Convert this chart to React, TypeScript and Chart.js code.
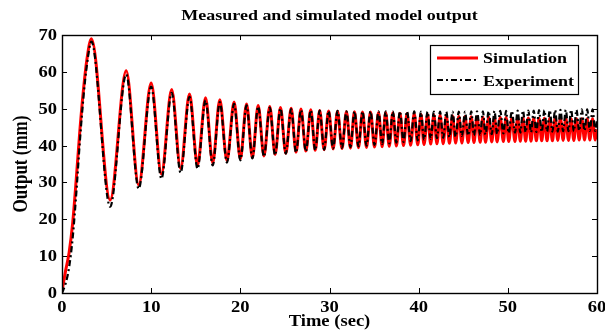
import React, { useEffect, useRef } from "react";
import { Chart, registerables } from "chart.js";
Chart.register(...registerables);

const TITLE = "Measured and simulated model output";
const X_TITLE = "Time (sec)";
const Y_TITLE = "Output (mm)";
const SERIES_NAMES = ["Simulation", "Experiment"];
const xTicks = [0, 10, 20, 30, 40, 50, 60];
const yTicks = [0, 10, 20, 30, 40, 50, 60, 70];

// time (sec) of read points: initial rise, then alternating troughs / peaks
const time = [
  0, 0.4, 0.8, 1.2, 1.6, 2.0, 2.4, 2.8, 3.3,
  5.4, 7.2, 8.6, 10.0, 11.15, 12.3, 13.3, 14.3, 15.2, 16.1,
  16.9, 17.7, 18.5, 19.3, 20.0, 20.7, 21.35, 22.0, 22.65, 23.3,
  23.9, 24.5, 25.1, 25.7, 26.25, 26.8, 27.35, 27.9, 28.4, 28.9,
  29.4, 29.9, 30.4, 30.9, 31.4, 31.9, 32.35, 32.8, 33.25, 33.7,
  34.15, 34.6, 35.05, 35.5, 35.9, 36.3, 36.7, 37.1, 37.5, 37.9,
  38.3, 38.7, 39.1, 39.5, 39.9, 40.25, 40.6, 41.0, 41.35, 41.7,
  42.05, 42.4, 42.75, 43.1, 43.45, 43.8, 44.15, 44.5, 44.85, 45.2,
  45.55, 45.9, 46.2, 46.55, 46.9, 47.2, 47.5, 47.85, 48.2, 48.5,
  48.8, 49.15, 49.5, 49.8, 50.1, 50.45, 50.8, 51.1, 51.4, 51.7,
  52.0, 52.3, 52.6, 52.9, 53.2, 53.5, 53.8, 54.1, 54.4, 54.7,
  55.0, 55.3, 55.6, 55.9, 56.2, 56.5, 56.8, 57.1, 57.4, 57.7,
  58.0, 58.3, 58.6, 58.9, 59.2, 59.5, 59.8, 60.0,
];

const simulation = [
  0.5, 6, 11, 19, 31, 44, 55, 63.5, 69,
  25.2, 60.3, 29.3, 57.0, 32.3, 55.2, 33.8, 54.0, 34.7, 53.0,
  35.3, 52.4, 35.9, 51.8, 36.4, 51.3, 36.8, 50.9, 37.2, 50.6,
  37.6, 50.3, 37.9, 50.1, 38.2, 49.9, 38.5, 49.7, 38.7, 49.5,
  38.9, 49.4, 39.1, 49.3, 39.2, 49.2, 39.3, 49.2, 39.4, 49.1,
  39.5, 49.1, 39.6, 49.0, 39.7, 49.0, 39.8, 48.9, 39.9, 48.8,
  40.0, 48.7, 40.1, 48.6, 40.2, 48.5, 40.3, 48.4, 40.4, 48.3,
  40.5, 48.2, 40.5, 48.1, 40.6, 48.0, 40.7, 47.9, 40.7, 47.9,
  40.8, 47.8, 40.8, 47.8, 40.9, 47.7, 40.9, 47.7, 41.0, 47.6,
  41.0, 47.6, 41.1, 47.6, 41.1, 47.5, 41.1, 47.5, 41.2, 47.5,
  41.2, 47.5, 41.2, 47.4, 41.3, 47.4, 41.3, 47.4, 41.3, 47.4,
  41.3, 47.4, 41.4, 47.4, 41.4, 47.4, 41.4, 47.3, 41.4, 47.3,
  41.5, 47.3, 41.5, 47.3, 41.5, 47.3, 41.5, 44.4,
];

const experiment = [
  0, 2.5, 7, 15, 27, 41, 53, 62, 68.2,
  23.4, 59.3, 28.3, 56.0, 31.0, 54.3, 32.6, 53.2, 33.7, 52.3,
  34.6, 51.8, 35.4, 51.3, 36.0, 50.9, 36.5, 50.6, 37.0, 50.3,
  37.4, 50.1, 37.8, 49.9, 38.1, 49.7, 38.4, 49.6, 38.7, 49.5,
  38.9, 49.4, 39.2, 49.4, 39.4, 49.3, 39.6, 49.3, 39.8, 49.3,
  40.0, 49.3, 40.2, 49.3, 40.4, 49.3, 40.6, 49.3, 40.8, 49.3,
  41.0, 49.3, 41.2, 49.3, 41.4, 49.2, 41.6, 49.2, 41.8, 49.2,
  42.0, 49.2, 42.1, 49.2, 42.3, 49.2, 42.4, 49.2, 42.6, 49.2,
  42.7, 49.3, 42.8, 49.3, 42.9, 49.3, 43.0, 49.3, 43.1, 49.4,
  43.2, 49.4, 43.3, 49.4, 43.4, 49.4, 43.5, 49.5, 43.5, 49.5,
  43.6, 49.5, 43.6, 49.5, 43.7, 49.6, 43.7, 49.6, 43.8, 49.6,
  43.8, 49.6, 43.8, 49.7, 43.9, 49.7, 43.9, 49.7, 43.9, 49.7,
  44.0, 49.8, 44.0, 49.8, 44.0, 49.8, 44.0, 47.0,
];

const FONT_FAMILY = '"Liberation Serif", "Times New Roman", Times, serif';
const SX = 1.16;
const RED = "#ff0000";
const BLACK = "#000000";
const DASH = [6, 3, 2, 3];

function drawText(
  ctx: CanvasRenderingContext2D,
  text: string,
  x: number,
  y: number,
  size: number,
  align: CanvasTextAlign,
  baseline: CanvasTextBaseline
) {
  ctx.save();
  ctx.translate(x, y);
  ctx.scale(SX, 1);
  ctx.font = `bold ${size}px ${FONT_FAMILY}`;
  ctx.fillStyle = "#000";
  ctx.textAlign = align;
  ctx.textBaseline = baseline;
  ctx.fillText(text, 0, 0);
  ctx.restore();
}

const decorPlugin = {
  id: "decor",
  afterDraw(chart: any) {
    const ctx: CanvasRenderingContext2D = chart.ctx;
    const { left, right, top, bottom } = chart.chartArea;
    const xs = chart.scales.x;
    const ys = chart.scales.y;
    ctx.save();
    ctx.strokeStyle = "#000";
    ctx.lineWidth = 1.4;
    ctx.strokeRect(Math.round(left) + 0.5, Math.round(top) + 0.5, Math.round(right - left), Math.round(bottom - top));
    const tl = 5;
    ctx.lineWidth = 1;
    ctx.beginPath();
    xTicks.forEach((v) => {
      const px = Math.round(xs.getPixelForValue(v)) + 0.5;
      ctx.moveTo(px, bottom);
      ctx.lineTo(px, bottom - tl);
      ctx.moveTo(px, top);
      ctx.lineTo(px, top + tl);
    });
    yTicks.forEach((v) => {
      const py = Math.round(ys.getPixelForValue(v)) + 0.5;
      ctx.moveTo(left, py);
      ctx.lineTo(left + tl, py);
      ctx.moveTo(right, py);
      ctx.lineTo(right - tl, py);
    });
    ctx.stroke();
    xTicks.forEach((v) => {
      drawText(ctx, String(v), xs.getPixelForValue(v), 312, 16, "center", "alphabetic");
    });
    yTicks.forEach((v) => {
      drawText(ctx, String(v), left - 5, ys.getPixelForValue(v) + 5, 16, "right", "alphabetic");
    });
    drawText(ctx, TITLE, (left + right) / 2, 20, 15.5, "center", "alphabetic");
    drawText(ctx, X_TITLE, (left + right) / 2, 326, 16, "center", "alphabetic");
    ctx.save();
    ctx.translate(27, (top + bottom) / 2);
    ctx.rotate(-Math.PI / 2);
    ctx.scale(1, 1.2);
    ctx.font = `bold 17px ${FONT_FAMILY}`;
    ctx.fillStyle = "#000";
    ctx.textAlign = "center";
    ctx.textBaseline = "alphabetic";
    ctx.fillText(Y_TITLE, 0, 0);
    ctx.restore();
    const lx = 430, ly = 45, lw = 148, lh = 49;
    ctx.fillStyle = "#fff";
    ctx.fillRect(lx, ly, lw, lh);
    ctx.strokeStyle = "#000";
    ctx.lineWidth = 1.2;
    ctx.strokeRect(lx + 0.5, ly + 0.5, lw, lh);
    ctx.lineWidth = 2.8;
    ctx.strokeStyle = RED;
    ctx.beginPath();
    ctx.moveTo(437, 58);
    ctx.lineTo(478, 58);
    ctx.stroke();
    ctx.lineWidth = 2;
    ctx.strokeStyle = BLACK;
    ctx.setLineDash(DASH);
    ctx.beginPath();
    ctx.moveTo(437, 80);
    ctx.lineTo(478, 80);
    ctx.stroke();
    ctx.setLineDash([]);
    drawText(ctx, SERIES_NAMES[0], 483, 63, 15.5, "left", "alphabetic");
    drawText(ctx, SERIES_NAMES[1], 483, 86, 15.5, "left", "alphabetic");
    ctx.restore();
  },
};

export default function App() {
  const ref = useRef<HTMLCanvasElement | null>(null);
  useEffect(() => {
    if (!ref.current) return;
    let chart: Chart | null = null;
    let cancelled = false;
    const build = () => {
      if (cancelled || !ref.current) return;
      const simData = time.map((t, i) => ({ x: t, y: simulation[i] }));
      const expData = time.map((t, i) => ({ x: t, y: experiment[i] }));
      chart = new Chart(ref.current, {
        type: "line",
        data: {
          datasets: [
            {
              label: SERIES_NAMES[0],
              data: simData,
              borderColor: RED,
              borderWidth: 3,
              pointRadius: 0,
              cubicInterpolationMode: "monotone",
              fill: false,
              order: 2,
            },
            {
              label: SERIES_NAMES[1],
              data: expData,
              borderColor: BLACK,
              borderWidth: 2.2,
              borderDash: DASH,
              pointRadius: 0,
              cubicInterpolationMode: "monotone",
              fill: false,
              order: 1,
            },
          ],
        },
        options: {
          animation: false,
          responsive: false,
          devicePixelRatio: 1,
          layout: { padding: { left: 0, right: 8, top: 35, bottom: 0 } },
          plugins: {
            legend: { display: false },
            title: { display: false },
            tooltip: { enabled: false },
          },
          scales: {
            x: {
              type: "linear",
              min: 0,
              max: 60,
              ticks: { display: false, stepSize: 10 },
              grid: { display: false },
              border: { display: false },
              afterFit: (s: any) => {
                s.height = 37;
              },
            },
            y: {
              type: "linear",
              min: 0,
              max: 70,
              ticks: { display: false, stepSize: 10 },
              grid: { display: false },
              border: { display: false },
              afterFit: (s: any) => {
                s.width = 62;
              },
            },
          },
        },
        plugins: [decorPlugin],
      });
    };
    const fontsApi = (document as any).fonts;
    if (fontsApi && fontsApi.load) {
      Promise.all([
        fontsApi.load(`bold 16px "Liberation Serif"`),
        fontsApi.load(`bold 16px "Times New Roman"`),
      ])
        .catch(() => null)
        .then(build);
    } else {
      build();
    }
    return () => {
      cancelled = true;
      if (chart) chart.destroy();
    };
  }, []);
  return (
    <div style={{ position: "fixed", left: 0, top: 0, width: 605, height: 330, background: "#fff" }}>
      <canvas ref={ref} width={605} height={330} style={{ width: 605, height: 330, display: "block" }} />
    </div>
  );
}
